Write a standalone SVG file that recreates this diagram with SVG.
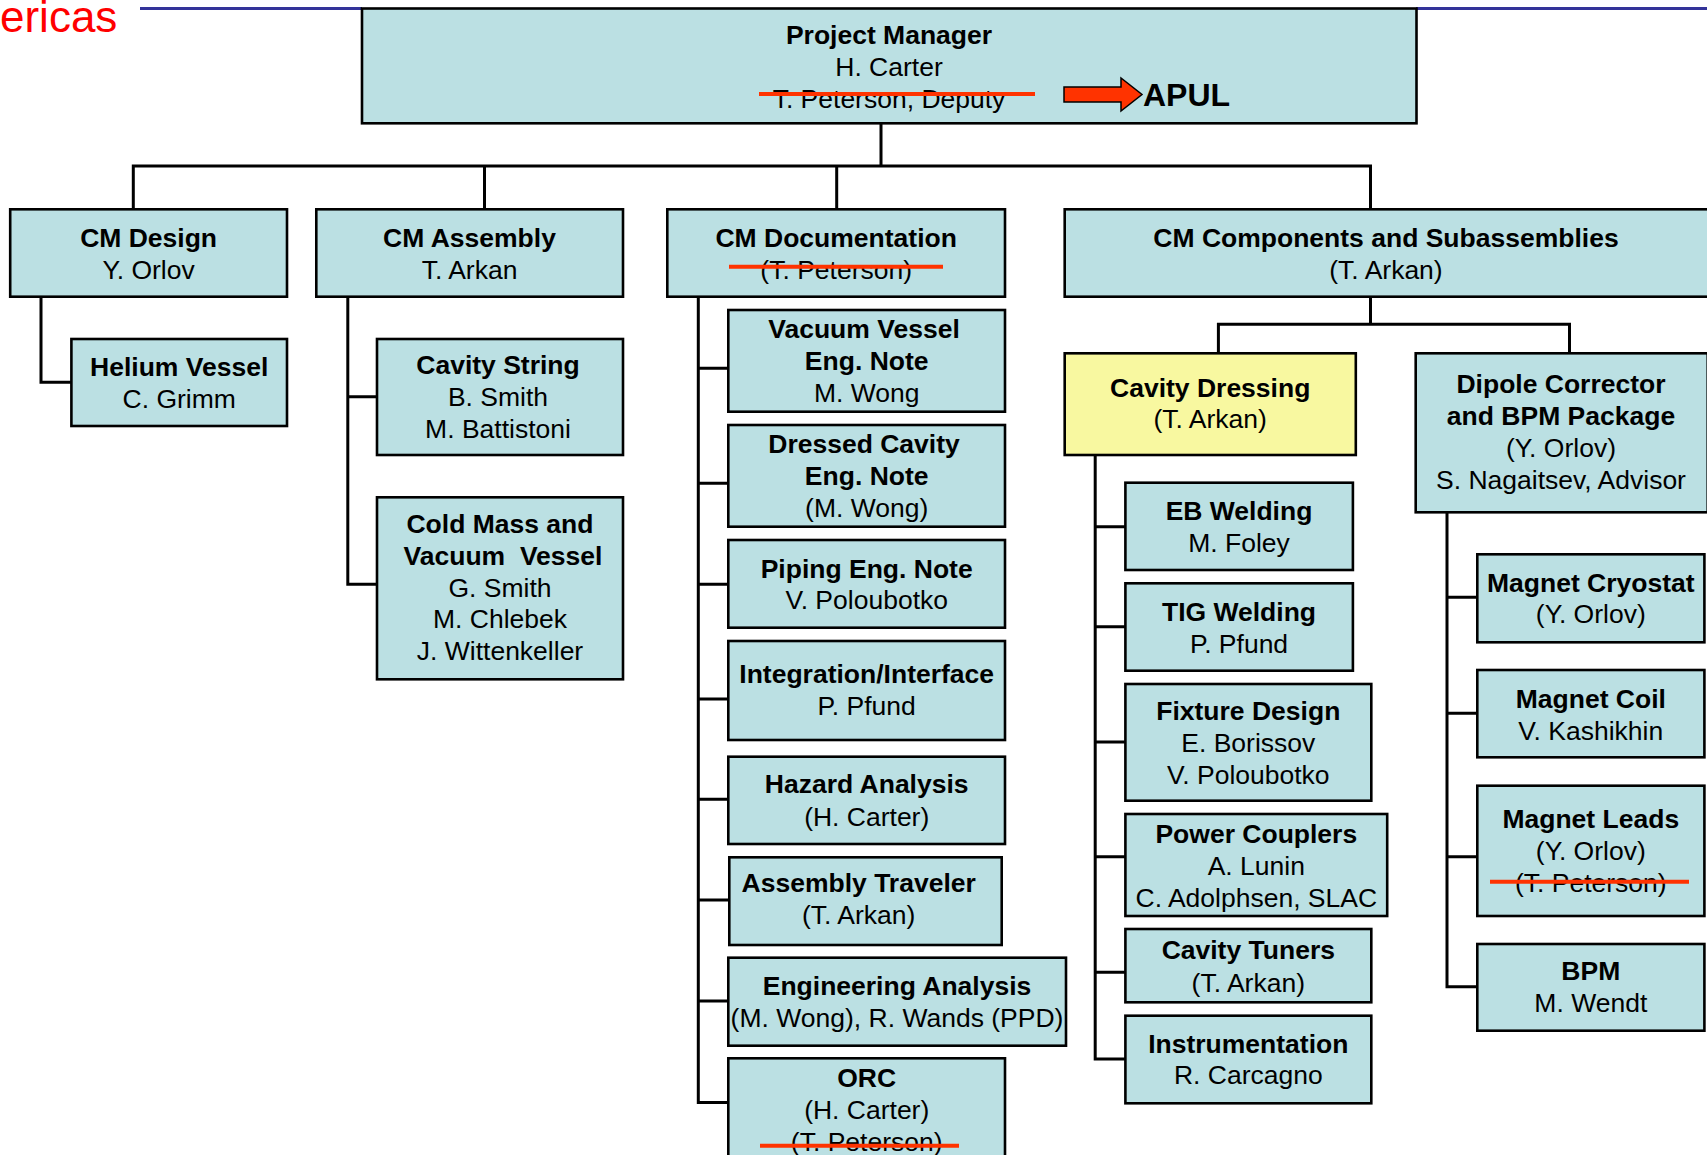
<svg xmlns="http://www.w3.org/2000/svg" width="1707" height="1155" viewBox="0 0 1707 1155">
<style>
.box{fill:#BBE0E3;stroke:#000;stroke-width:2.6}
.yel{fill:#F8F8A0;stroke:#000;stroke-width:2.6}
.t{font-family:"Liberation Sans",Arial,sans-serif;font-size:26.5px;text-anchor:middle;fill:#000}
.b{font-weight:bold}
.conn{stroke:#000;stroke-width:3;fill:none}
.strike{stroke:#FF3300;stroke-width:4;fill:none}
.rule{stroke:#333399;stroke-width:3;fill:none}
</style>
<rect width="1707" height="1155" fill="#fff"/>
<text x="0" y="32" style="font-family:'Liberation Sans',Arial,sans-serif;font-size:44px;fill:#FF0000">ericas</text>
<path class="rule" d="M140,8.5 H362 M1416,8.5 H1707"/>

<g id="connectors">
<path class="conn" d="M881,123 V166 M133.3,209.3 V166 H1370.5 V209.3 M484.5,166 V209.3 M836.7,166 V209.3"/>
<path class="conn" d="M41,296.7 V382.3 H71.4"/>
<path class="conn" d="M347.8,296.7 V584.3 H377 M347.8,396.7 H377"/>
<path class="conn" d="M698.3,296.7 V1102.5 H728.3 M698.3,368.3 H728.3 M698.3,483.3 H728.3 M698.3,584.3 H728.3 M698.3,699 H728.3 M698.3,799.3 H728.3 M698.3,900 H729.3 M698.3,1001 H728.3"/>
<path class="conn" d="M1370.5,296.7 V324.3 M1218.4,352.7 V324.3 H1569.5 V352.7"/>
<path class="conn" d="M1095.2,455 V1059 H1125.4 M1095.2,526.7 H1125.4 M1095.2,626.7 H1125.4 M1095.2,742 H1125.4 M1095.2,856.7 H1125.4 M1095.2,972.3 H1125.4"/>
<path class="conn" d="M1447,512.3 V986.7 H1477.3 M1447,597.3 H1477.3 M1447,713.3 H1477.3 M1447,856.7 H1477.3"/>
</g>

<g id="project-manager">
<rect class="box" x="362" y="8.5" width="1054.5" height="114.8"/>
<text class="t b" x="889" y="44">Project Manager</text>
<text class="t" x="889" y="76">H. Carter</text>
<text class="t" x="889" y="108">T. Peterson, Deputy</text>
<path class="strike" d="M759,94 H1035"/>
<path d="M1064,87 H1121 V78 L1142,94.5 L1121,111 V102 H1064 Z" fill="#FF3300" stroke="#000" stroke-width="1.5"/>
<text x="1143" y="106" style="font-family:'Liberation Sans',Arial,sans-serif;font-size:32px;font-weight:bold;fill:#000">APUL</text>
</g>

<g id="cm-design">
<rect class="box" x="10.2" y="209.3" width="276.8" height="87.4"/>
<text class="t b" x="148.6" y="247.3">CM Design</text>
<text class="t" x="148.6" y="279">Y. Orlov</text>
</g>
<g id="helium-vessel">
<rect class="box" x="71.4" y="339" width="215.6" height="87"/>
<text class="t b" x="179.2" y="375.7">Helium Vessel</text>
<text class="t" x="179.2" y="407.7">C. Grimm</text>
</g>

<g id="cm-assembly">
<rect class="box" x="316.3" y="209.3" width="306.7" height="87.4"/>
<text class="t b" x="469.5" y="247.3">CM Assembly</text>
<text class="t" x="469.5" y="279">T. Arkan</text>
</g>
<g id="cavity-string">
<rect class="box" x="377" y="339" width="246" height="116"/>
<text class="t b" x="498" y="374.3">Cavity String</text>
<text class="t" x="498" y="406">B. Smith</text>
<text class="t" x="498" y="437.7">M. Battistoni</text>
</g>
<g id="cold-mass">
<rect class="box" x="377" y="497.3" width="246" height="182"/>
<text class="t b" x="500" y="533.3">Cold Mass and</text>
<text class="t b" x="503" y="565" xml:space="preserve">Vacuum  Vessel</text>
<text class="t" x="500" y="596.7">G. Smith</text>
<text class="t" x="500" y="628.3">M. Chlebek</text>
<text class="t" x="500" y="660.3">J. Wittenkeller</text>
</g>

<g id="cm-documentation">
<rect class="box" x="667.3" y="209.3" width="337.7" height="87.4"/>
<text class="t b" x="836.2" y="247.3">CM Documentation</text>
<text class="t" x="836.2" y="279">(T. Peterson)</text>
<path class="strike" d="M729,266.7 H943"/>
</g>
<g id="vacuum-vessel-note">
<rect class="box" x="728.3" y="310" width="276.7" height="101.7"/>
<text class="t b" x="864" y="338.3">Vacuum Vessel</text>
<text class="t b" x="866.7" y="370">Eng. Note</text>
<text class="t" x="866.7" y="402">M. Wong</text>
</g>
<g id="dressed-cavity-note">
<rect class="box" x="728.3" y="425" width="276.7" height="101.7"/>
<text class="t b" x="864" y="453.3">Dressed Cavity</text>
<text class="t b" x="866.7" y="485">Eng. Note</text>
<text class="t" x="866.7" y="516.5">(M. Wong)</text>
</g>
<g id="piping-note">
<rect class="box" x="728.3" y="540" width="276.7" height="87.7"/>
<text class="t b" x="866.7" y="577.7">Piping Eng. Note</text>
<text class="t" x="866.7" y="609.3">V. Poloubotko</text>
</g>
<g id="integration">
<rect class="box" x="728.3" y="641" width="276.7" height="99"/>
<text class="t b" x="866.7" y="683.3">Integration/Interface</text>
<text class="t" x="866.7" y="715">P. Pfund</text>
</g>
<g id="hazard-analysis">
<rect class="box" x="728.3" y="756.7" width="276.7" height="87.3"/>
<text class="t b" x="866.7" y="793.3">Hazard Analysis</text>
<text class="t" x="866.7" y="825.5">(H. Carter)</text>
</g>
<g id="assembly-traveler">
<rect class="box" x="729.3" y="857.3" width="272.4" height="87.7"/>
<text class="t b" x="858.7" y="892.3">Assembly Traveler</text>
<text class="t" x="858.7" y="924.3">(T. Arkan)</text>
</g>
<g id="engineering-analysis">
<rect class="box" x="728.3" y="957.7" width="337.7" height="88"/>
<text class="t b" x="897" y="995">Engineering Analysis</text>
<text class="t" x="897" y="1026.7">(M. Wong), R. Wands (PPD)</text>
</g>
<g id="orc">
<rect class="box" x="728.3" y="1058.3" width="276.7" height="110"/>
<text class="t b" x="866.7" y="1087.3">ORC</text>
<text class="t" x="866.7" y="1119.3">(H. Carter)</text>
<text class="t" x="866.7" y="1151">(T. Peterson)</text>
<path class="strike" d="M760,1145.7 H959"/>
</g>

<g id="cm-components">
<rect class="box" x="1064.7" y="209.3" width="644" height="87.4"/>
<text class="t b" x="1386" y="247.3">CM Components and Subassemblies</text>
<text class="t" x="1386" y="279">(T. Arkan)</text>
</g>
<g id="cavity-dressing">
<rect class="yel" x="1064.7" y="353.3" width="291.1" height="101.7"/>
<text class="t b" x="1210.2" y="396.7">Cavity Dressing</text>
<text class="t" x="1210.2" y="428.3">(T. Arkan)</text>
</g>
<g id="eb-welding">
<rect class="box" x="1125.4" y="482.7" width="227.5" height="87.3"/>
<text class="t b" x="1239" y="520">EB Welding</text>
<text class="t" x="1239" y="551.7">M. Foley</text>
</g>
<g id="tig-welding">
<rect class="box" x="1125.4" y="583.3" width="227.5" height="87.4"/>
<text class="t b" x="1239" y="620.7">TIG Welding</text>
<text class="t" x="1239" y="652.5">P. Pfund</text>
</g>
<g id="fixture-design">
<rect class="box" x="1125.4" y="684" width="245.9" height="116.7"/>
<text class="t b" x="1248.3" y="720">Fixture Design</text>
<text class="t" x="1248.3" y="751.7">E. Borissov</text>
<text class="t" x="1248.3" y="783.5">V. Poloubotko</text>
</g>
<g id="power-couplers">
<rect class="box" x="1125.4" y="814" width="261.8" height="102"/>
<text class="t b" x="1256.3" y="842.7">Power Couplers</text>
<text class="t" x="1256.3" y="874.5">A. Lunin</text>
<text class="t" x="1256.3" y="906.5">C. Adolphsen, SLAC</text>
</g>
<g id="cavity-tuners">
<rect class="box" x="1125.4" y="929" width="245.9" height="73.3"/>
<text class="t b" x="1248.3" y="959.3">Cavity Tuners</text>
<text class="t" x="1248.3" y="991.5">(T. Arkan)</text>
</g>
<g id="instrumentation">
<rect class="box" x="1125.4" y="1015.7" width="245.9" height="87.6"/>
<text class="t b" x="1248.3" y="1052.7">Instrumentation</text>
<text class="t" x="1248.3" y="1084.3">R. Carcagno</text>
</g>

<g id="dipole-corrector">
<rect class="box" x="1415.7" y="353.3" width="292" height="159"/>
<text class="t b" x="1561" y="393.3">Dipole Corrector</text>
<text class="t b" x="1561" y="425">and BPM Package</text>
<text class="t" x="1561" y="456.7">(Y. Orlov)</text>
<text class="t" x="1561" y="488.5">S. Nagaitsev, Advisor</text>
</g>
<g id="magnet-cryostat">
<rect class="box" x="1477.3" y="554.3" width="227.1" height="88"/>
<text class="t b" x="1590.8" y="591.7">Magnet Cryostat</text>
<text class="t" x="1590.8" y="623.3">(Y. Orlov)</text>
</g>
<g id="magnet-coil">
<rect class="box" x="1477.3" y="670" width="227.1" height="87.3"/>
<text class="t b" x="1590.8" y="708.3">Magnet Coil</text>
<text class="t" x="1590.8" y="740">V. Kashikhin</text>
</g>
<g id="magnet-leads">
<rect class="box" x="1477.3" y="785.7" width="227.1" height="130.3"/>
<text class="t b" x="1590.8" y="827.7">Magnet Leads</text>
<text class="t" x="1590.8" y="860">(Y. Orlov)</text>
<text class="t" x="1590.8" y="892">(T. Peterson)</text>
<path class="strike" d="M1490,881.7 H1689"/>
</g>
<g id="bpm">
<rect class="box" x="1477.3" y="944" width="227.1" height="86.7"/>
<text class="t b" x="1590.8" y="980">BPM</text>
<text class="t" x="1590.8" y="1011.7">M. Wendt</text>
</g>
</svg>
